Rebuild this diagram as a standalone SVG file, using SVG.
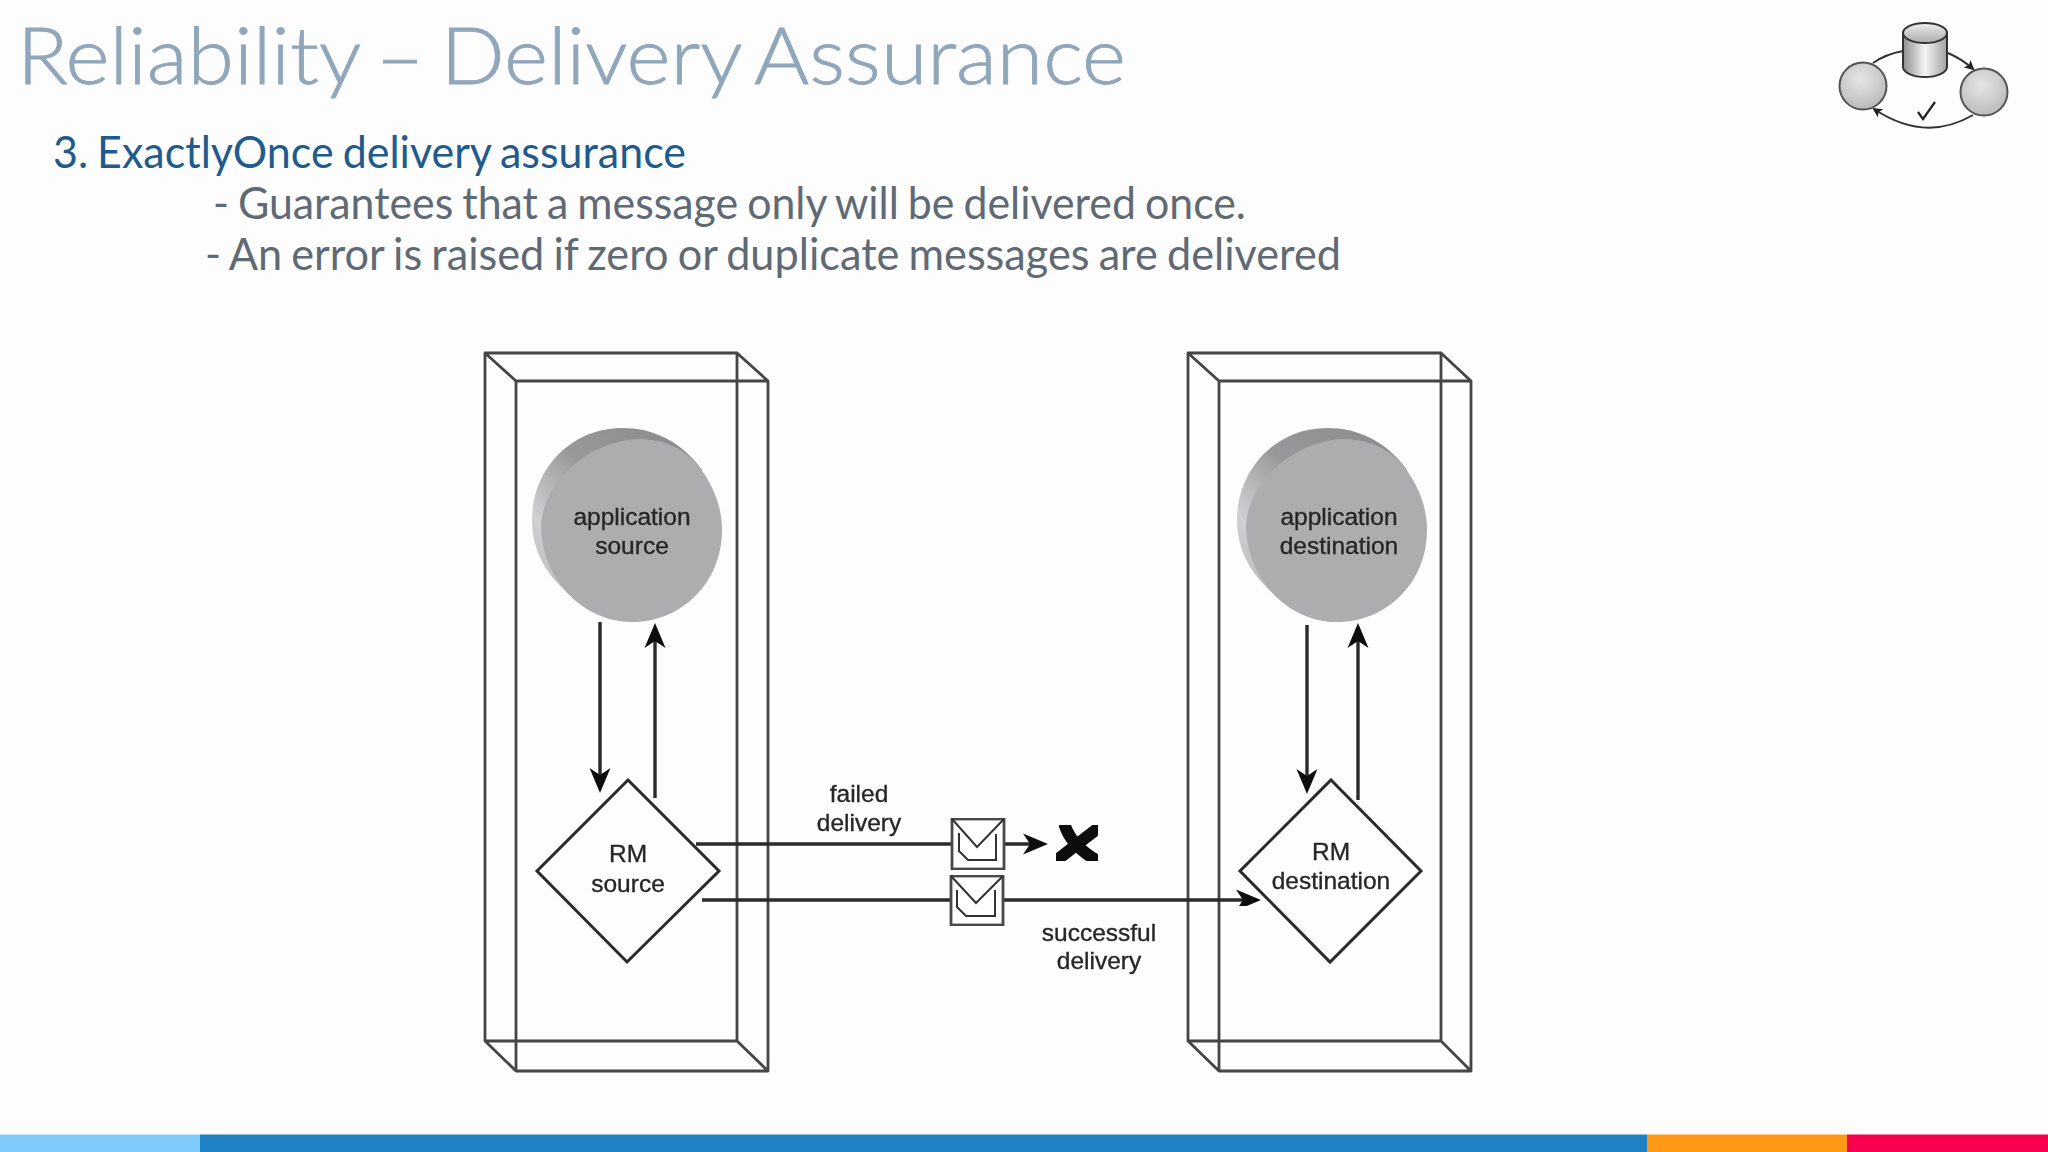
<svg xmlns="http://www.w3.org/2000/svg" width="2048" height="1152" viewBox="0 0 2048 1152">
<style>
.box{fill:none;stroke:#444;stroke-width:2.8;stroke-linejoin:round}
.lbl{font-family:"Liberation Sans",Arial,sans-serif;font-size:24.5px;fill:#262626;stroke:#262626;stroke-width:.35;text-anchor:middle}
.ln{fill:none;stroke:#2a2a2a;stroke-width:3.4}
.dia{fill:none;stroke:#2a2a2a;stroke-width:3}
.env{fill:#fff;stroke:#484848;stroke-width:2.8}
.face{fill:#adacaf}
.body{font-family:Lato,"Liberation Sans",sans-serif;font-size:44px;word-spacing:-2px}
.ic{fill:none;stroke:#333;stroke-width:2}
.soft{filter:url(#soft)}
</style>
<defs>
<filter id="soft" x="-2%" y="-2%" width="104%" height="104%"><feGaussianBlur stdDeviation="0.5"/></filter>
<marker id="ah" markerUnits="userSpaceOnUse" markerWidth="30" markerHeight="26" refX="17" refY="13" orient="auto"><path d="M0,2.5 L25,13 L0,23.5 L7,13 Z" fill="#111"/></marker>
<marker id="ih" markerUnits="userSpaceOnUse" markerWidth="12" markerHeight="12" refX="8" refY="6" orient="auto"><path d="M0,1 L10,6 L0,11 L2.5,6 Z" fill="#222"/></marker>
<linearGradient id="rim" x1="1" y1="0" x2="0" y2="1"><stop offset="0" stop-color="#8a8a8d"/><stop offset=".45" stop-color="#98989b"/><stop offset=".72" stop-color="#d0d0d2"/><stop offset="1" stop-color="#adacaf"/></linearGradient>
<radialGradient id="ball" cx=".45" cy=".35" r=".75"><stop offset="0" stop-color="#e6e6e6"/><stop offset="1" stop-color="#b4b4b4"/></radialGradient>
<linearGradient id="cyl" x1="0" y1="0" x2="1" y2="0"><stop offset="0" stop-color="#8f8f8f"/><stop offset=".5" stop-color="#f4f4f4"/><stop offset="1" stop-color="#a0a0a0"/></linearGradient>
<linearGradient id="cyltop" x1="0" y1="0" x2="0" y2="1"><stop offset="0" stop-color="#eeeeee"/><stop offset="1" stop-color="#a8a8a8"/></linearGradient>
<g id="blob">
<path d="M532,520 C532,468 572,428 622,428 C652,428 680,440 702,470 L632,622 C572,610 532,570 532,520Z" fill="url(#rim)"/>
<path class="face" d="M541,525 C544,480 590,440 640,439 C670,440 690,452 705,475 C716,493 722,510 722,530 C722,582 682,622 632,622 C582,622 541,578 541,525Z"/>
</g>
</defs>
<rect width="2048" height="1152" fill="#fdfdfd"/>

<g id="heading">
<text x="17" y="84" font-family="Lato,'Liberation Sans',sans-serif" font-weight="300" font-size="78" fill="#90a6ba" stroke="#90a6ba" stroke-width=".8" word-spacing="-6" textLength="1109" lengthAdjust="spacingAndGlyphs">Reliability – Delivery Assurance</text>
<text class="body" x="53" y="168" fill="#1f5b8c" textLength="633" lengthAdjust="spacingAndGlyphs">3. ExactlyOnce delivery assurance</text>
<text class="body" x="213" y="219" fill="#5f6a75" textLength="1033" lengthAdjust="spacingAndGlyphs">- Guarantees that a message only will be delivered once.</text>
<text class="body" x="205" y="270" fill="#5f6a75" textLength="1136" lengthAdjust="spacingAndGlyphs">- An error is raised if zero or duplicate messages are delivered</text>
</g>

<g id="icon" class="soft">
<path class="ic" d="M1873,63 Q1886,54 1903,51"/>
<path class="ic" d="M1948,53 Q1962,59 1973,69" marker-end="url(#ih)"/>
<path class="ic" d="M1973,115 Q1925,143 1874,109" marker-end="url(#ih)"/>
<path d="M1903,33 V67 A22,10 0 0 0 1947,67 V33 Z" fill="url(#cyl)" stroke="#333" stroke-width="2"/>
<ellipse cx="1925" cy="33" rx="22" ry="10" fill="url(#cyltop)" stroke="#333" stroke-width="2"/>
<circle cx="1863" cy="86" r="23.5" fill="url(#ball)" stroke="#555" stroke-width="2"/>
<circle cx="1984" cy="92" r="23.5" fill="url(#ball)" stroke="#555" stroke-width="2"/>
<path d="M1918,112 L1923,119 L1935,102" fill="none" stroke="#222" stroke-width="2.2"/>
</g>

<g id="source-box" class="soft"><path class="box" d="M485,353 H737 V1041 H485 Z M516,381 H768 V1071 H516 Z M485,353 L516,381 M737,353 L768,381 M485,1041 L516,1071 M737,1041 L768,1071"/></g>
<g id="destination-box" class="soft"><path class="box" d="M1188,353 H1441 V1041 H1188 Z M1219,381 H1471 V1071 H1219 Z M1188,353 L1219,381 M1441,353 L1471,381 M1188,1041 L1219,1071 M1441,1041 L1471,1071"/></g>

<g id="connectors" class="soft">
<path class="ln" d="M600,622 V785" marker-end="url(#ah)"/>
<path class="ln" d="M655,798 V631" marker-end="url(#ah)"/>
<path class="ln" d="M1307,625 V786" marker-end="url(#ah)"/>
<path class="ln" d="M1358,800 V631" marker-end="url(#ah)"/>
<path class="ln" d="M696,844 H1040" marker-end="url(#ah)"/>
<path class="ln" d="M702,900 H1253" marker-end="url(#ah)"/>
</g>

<g id="application-source" class="soft">
<use href="#blob"/>
<text class="lbl" x="632" y="525">application</text>
<text class="lbl" x="632" y="554">source</text>
</g>
<g id="application-destination" class="soft">
<use href="#blob" x="705"/>
<text class="lbl" x="1339" y="525">application</text>
<text class="lbl" x="1339" y="554">destination</text>
</g>
<g id="rm-source" class="soft">
<path class="dia" d="M628,780 L719,871 L627,962 L537,871 Z"/>
<text class="lbl" x="628" y="862">RM</text>
<text class="lbl" x="628" y="892">source</text>
</g>
<g id="rm-destination" class="soft">
<path class="dia" d="M1331,780 L1421,871 L1330,962 L1240,871 Z"/>
<text class="lbl" x="1331" y="860">RM</text>
<text class="lbl" x="1331" y="889">destination</text>
</g>
<g id="message-failed" class="soft">
<rect class="env" x="952" y="819" width="52" height="50"/>
<path class="ic" stroke-width="2.2" d="M952,819 L977,847 L1004,819 M959,833 V851 L968,860 H996 V834"/>
</g>
<g id="message-success" class="soft">
<rect class="env" x="951" y="876" width="52" height="49"/>
<path class="ic" stroke-width="2.2" d="M951,876 L976,903 L1003,876 M957,890 V907 L966,916 H995 V890"/>
</g>
<g id="lost-mark" class="soft">
<path d="M1065,826 Q1072,846 1096,860 M1097,829 Q1080,842 1057,860" fill="none" stroke="#111" stroke-width="12" stroke-linecap="round"/>
</g>
<g id="labels" class="soft">
<text class="lbl" x="859" y="802">failed</text>
<text class="lbl" x="859" y="831">delivery</text>
<text class="lbl" x="1099" y="941">successful</text>
<text class="lbl" x="1099" y="969">delivery</text>
</g>
<g id="footer-bar">
<rect x="0" y="1134.5" width="200" height="17.5" fill="#7fcbfb"/>
<rect x="200" y="1134.5" width="1447" height="17.5" fill="#1e82c5"/>
<rect x="1647" y="1134.5" width="200" height="17.5" fill="#ff9717"/>
<rect x="1847" y="1134.5" width="201" height="17.5" fill="#f9004f"/>
</g>
</svg>
